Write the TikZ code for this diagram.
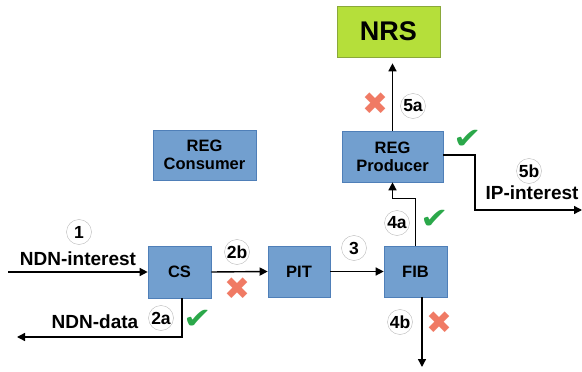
\documentclass[tikz,border=0pt]{standalone}
\usepackage{fontspec}
\setmainfont{Liberation Sans}
\newfontfamily\symfont{DejaVu Sans}
\usetikzlibrary{arrows.meta}
\definecolor{boxblue}{HTML}{729FCF}
\definecolor{boxedge}{HTML}{4F7FB8}
\definecolor{nrsgreen}{HTML}{B5DF3A}
\definecolor{nrsedge}{HTML}{8AA83A}
\definecolor{okgreen}{HTML}{2BA84A}
\definecolor{badred}{HTML}{F07A64}
\tikzset{
  blk/.style={draw=boxedge, line width=0.6pt, fill=boxblue, align=center, inner sep=0pt,
    font=\bfseries\fontsize{16.5}{18}\selectfont},
  nrsbox/.style={draw=nrsedge, line width=0.6pt, fill=nrsgreen, inner sep=0pt,
    minimum width=103pt, minimum height=51pt, font=\bfseries\fontsize{27}{30}\selectfont},
  num/.style={draw=gray!55, line width=0.4pt, circle, minimum size=25pt, inner sep=0pt,
    font=\bfseries\fontsize{17.5}{18}\selectfont},
  lbl/.style={font=\bfseries\fontsize{19}{21}\selectfont, inner sep=0pt},
  okmark/.style={text=okgreen, font=\symfont\fontsize{34}{34}\selectfont, inner sep=0pt, yscale=0.85},
  badmark/.style={text=badred, font=\symfont\fontsize{31}{31}\selectfont, inner sep=0pt},
  conn/.style={line width=1.4pt, -{Triangle[length=8pt,width=8pt]}}
}
\begin{document}
\begin{tikzpicture}[x=1pt,y=-1pt]
\useasboundingbox (0,0) rectangle (582,372);
% boxes
\node[blk, minimum width=63pt, minimum height=52pt] (cs) at (179.5,272) {CS};
\node[blk, minimum width=62pt, minimum height=51pt] (pit) at (299,271.5) {PIT};
\node[blk, minimum width=63pt, minimum height=51pt] (fib) at (415.5,271.5) {FIB};
\node[blk, minimum width=103pt, minimum height=50pt] (regc) at (204.5,155) {REG\\Consumer};
\node[blk, minimum width=101pt, minimum height=51pt] (regp) at (392.5,156.5) {REG\\Producer};
\node[nrsbox] (nrs) at (388.5,31.5) {NRS};
% free ends
\coordinate (inStart) at (8,272);
\coordinate (dataEnd) at (17,337);
\coordinate (fibDown) at (422,367);
\coordinate (ipEnd) at (582,210);
% connectors
\draw[conn] (inStart) -- (cs.west);
\draw[conn] (cs.east) -- (pit.west);
\draw[conn] (pit.east) -- (fib.west);
\draw[conn] ([xshift=2.5pt]cs.south) |- (dataEnd);
\draw[conn] (fib.north) -- ++(0,-47) -| (regp.south);
\draw[conn] ([xshift=6.5pt]fib.south) -- (fibDown);
\draw[conn, shorten >=6pt] (regp.north) -- (regp.north |- nrs.south);
\draw[conn] ([yshift=1.5pt]regp.east) -| (475,210) -- (ipEnd);
% labels
\node[num] (n1) at (79,232) {1};
\node[lbl] (ndnint) at (78,259) {NDN-interest};
\node[num] (n2b) at (237,252) {2b};
\node[badmark] (x2b) at (237,289) {✖};
\node[num] (n3) at (354,248) {3};
\node[num] (n2a) at (161,318) {2a};
\node[lbl] (ndndata) at (95,322) {NDN-data};
\node[okmark] (c2a) at (198,319) {✔};
\node[num] (n4a) at (397,223) {4a};
\node[okmark] (c4a) at (435,219) {✔};
\node[num] (n4b) at (400,322) {4b};
\node[badmark] (x4b) at (439,323) {✖};
\node[num] (n5a) at (413,106) {5a};
\node[badmark] (x5a) at (375,104) {✖};
\node[okmark] (c5) at (468,139) {✔};
\node[num] (n5b) at (529,171) {5b};
\node[lbl] (ipint) at (532,193) {IP-interest};
\end{tikzpicture}
\end{document}
